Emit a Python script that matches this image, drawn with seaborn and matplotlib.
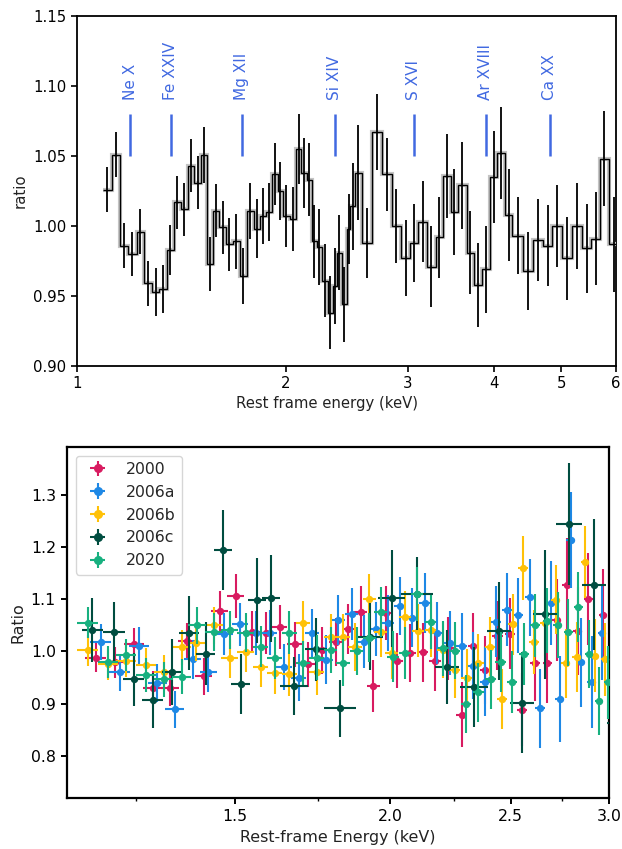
import numpy as np
import pandas as pd
import matplotlib
matplotlib.use("Agg")
import matplotlib.pyplot as plt
import matplotlib.patheffects as pe
from matplotlib.ticker import FixedLocator, FormatStrFormatter, NullLocator, NullFormatter
from matplotlib.lines import Line2D
import seaborn as sns

# ---------------- top panel data ----------------
top_edges = [1.089, 1.122, 1.154, 1.186, 1.219, 1.251, 1.284, 1.315, 1.347, 1.380,
             1.411, 1.444, 1.477, 1.510, 1.542, 1.573, 1.605, 1.641, 1.677, 1.719,
             1.757, 1.800, 1.837, 1.874, 1.911, 1.952, 1.981, 2.029, 2.068, 2.109,
             2.145, 2.181, 2.217, 2.259, 2.300, 2.338, 2.370, 2.414, 2.450, 2.482,
             2.518, 2.580, 2.668, 2.758, 2.845, 2.934, 3.030, 3.108, 3.202, 3.296,
             3.377, 3.464, 3.550, 3.650, 3.743, 3.844, 3.952, 4.041, 4.145, 4.252,
             4.405, 4.554, 4.709, 4.857, 5.020, 5.190, 5.366, 5.528, 5.683, 5.862, 6.05]
top_ratio = [1.026, 1.051, 0.986, 0.980, 0.996, 0.959, 0.953, 0.955, 0.983, 1.017,
             1.012, 1.043, 1.031, 1.051, 0.973, 1.011, 0.999, 0.987, 0.989, 0.964,
             1.011, 0.998, 1.007, 1.010, 1.037, 1.025, 1.007, 1.005, 1.055, 1.038,
             1.033, 0.989, 0.985, 0.961, 0.938, 0.957, 0.981, 0.944, 0.998, 1.014,
             1.038, 0.988, 1.067, 1.037, 1.000, 0.977, 0.988, 1.003, 0.971, 0.992,
             1.036, 1.010, 1.029, 0.981, 0.958, 0.969, 1.035, 1.052, 1.008, 0.993,
             0.968, 0.990, 0.986, 1.000, 0.977, 1.000, 0.984, 0.991, 1.048, 0.987]
top_err = [0.016, 0.016, 0.016, 0.016, 0.016, 0.016, 0.017, 0.017, 0.018, 0.019,
           0.019, 0.019, 0.019, 0.020, 0.0195, 0.019, 0.019, 0.019, 0.0196, 0.020,
           0.020, 0.021, 0.020, 0.021, 0.022, 0.021, 0.022, 0.023, 0.025, 0.025,
           0.026, 0.026, 0.027, 0.026, 0.026, 0.027, 0.027, 0.027, 0.025, 0.031,
           0.034, 0.025, 0.027, 0.026, 0.0265, 0.027, 0.028, 0.029, 0.029, 0.029,
           0.030, 0.031, 0.031, 0.0295, 0.030, 0.031, 0.033, 0.033, 0.033, 0.0276,
           0.028, 0.029, 0.029, 0.0295, 0.0298, 0.031, 0.0315, 0.033, 0.034, 0.034]
line_names = ["Ne X", "Fe XXIV", "Mg XII", "Si XIV", "S XVI", "Ar XVIII", "Ca XX"]
line_energies = [1.193, 1.366, 1.730, 2.356, 3.064, 3.891, 4.814]
top_xticks = [1, 2, 3, 4, 5, 6]
top_yticks = [0.90, 0.95, 1.00, 1.05, 1.10, 1.15]

# ---------------- bottom panel data ----------------
series_names = ["2000", "2006a", "2006b", "2006c", "2020"]
series_colors = ["#D81B60", "#1E88E5", "#FFC107", "#004D40", "#17B07F"]

e2000 = [1.159, 1.201, 1.244, 1.288, 1.330, 1.372, 1.416, 1.459, 1.502, 1.547,
         1.588, 1.630, 1.676, 1.718, 1.763, 1.808, 1.851, 1.894, 1.938, 1.983,
         2.026, 2.075, 2.124, 2.173, 2.227, 2.283, 2.333, 2.384, 2.440, 2.497,
         2.555, 2.616, 2.676, 2.723, 2.774, 2.831, 2.887, 2.968]
r2000 = [0.988, 0.979, 1.014, 0.930, 0.930, 1.020, 0.952, 1.077, 1.106, 1.038,
         1.036, 1.047, 1.014, 0.975, 1.002, 1.018, 1.043, 1.076, 0.934, 1.073,
         0.982, 0.997, 0.998, 0.982, 1.006, 0.879, 1.011, 0.964, 1.030, 1.034,
         0.888, 0.977, 0.977, 1.060, 1.127, 1.039, 1.100, 1.069]
dr2000 = [0.028, 0.030, 0.030, 0.033, 0.034, 0.035, 0.036, 0.038, 0.042, 0.040,
          0.040, 0.042, 0.043, 0.044, 0.045, 0.046, 0.048, 0.050, 0.050, 0.052,
          0.053, 0.055, 0.056, 0.058, 0.060, 0.062, 0.063, 0.065, 0.066, 0.068,
          0.070, 0.072, 0.075, 0.078, 0.090, 0.085, 0.088, 0.090]
de2000 = 0.023

e2006a = [1.170, 1.212, 1.256, 1.299, 1.342, 1.387, 1.428, 1.471, 1.514, 1.560,
          1.600, 1.643, 1.688, 1.731, 1.775, 1.817, 1.862, 1.906, 1.947, 1.993,
          2.037, 2.081, 2.133, 2.182, 2.234, 2.283, 2.333, 2.384, 2.433, 2.484,
          2.536, 2.591, 2.640, 2.693, 2.739, 2.794, 2.847, 2.905, 2.960]
r2006a = [1.018, 0.960, 1.011, 0.939, 0.889, 0.985, 0.960, 1.034, 1.052, 1.035,
          1.036, 0.971, 0.950, 1.036, 0.984, 1.061, 1.072, 1.019, 1.043, 1.055,
          1.087, 1.065, 1.093, 1.035, 1.016, 1.011, 0.973, 0.942, 1.057, 1.080,
          1.069, 1.104, 0.891, 1.093, 0.909, 1.214, 0.979, 0.941, 1.035]
dr2006a = [0.034, 0.035, 0.036, 0.036, 0.035, 0.037, 0.038, 0.040, 0.041, 0.042,
           0.043, 0.044, 0.045, 0.046, 0.047, 0.048, 0.050, 0.051, 0.052, 0.054,
           0.055, 0.057, 0.058, 0.060, 0.061, 0.062, 0.064, 0.066, 0.068, 0.070,
           0.072, 0.074, 0.076, 0.080, 0.082, 0.092, 0.085, 0.088, 0.090]
de2006a = 0.023

e2006b = [1.142, 1.186, 1.227, 1.272, 1.315, 1.359, 1.397, 1.443, 1.486, 1.530,
          1.573, 1.615, 1.659, 1.702, 1.745, 1.791, 1.833, 1.874, 1.924, 1.965,
          2.005, 2.055, 2.107, 2.156, 2.204, 2.255, 2.305, 2.355, 2.406, 2.459,
          2.509, 2.559, 2.611, 2.664, 2.719, 2.770, 2.826, 2.869, 2.923, 2.978]
r2006b = [1.002, 0.975, 0.982, 0.974, 0.960, 1.008, 1.017, 1.050, 0.987, 0.998,
          0.970, 0.958, 0.956, 1.055, 0.960, 1.027, 1.027, 1.009, 1.101, 1.037,
          0.9965, 1.066, 1.040, 1.042, 1.003, 0.964, 0.950, 0.977, 1.009, 0.909,
          1.052, 1.160, 1.018, 1.055, 1.099, 0.977, 0.990, 1.172, 0.992, 0.985]
dr2006b = [0.030, 0.030, 0.031, 0.032, 0.033, 0.034, 0.035, 0.036, 0.037, 0.038,
           0.039, 0.040, 0.041, 0.042, 0.043, 0.044, 0.045, 0.046, 0.047, 0.048,
           0.049, 0.050, 0.051, 0.052, 0.053, 0.054, 0.055, 0.056, 0.057, 0.058,
           0.059, 0.062, 0.062, 0.064, 0.066, 0.066, 0.067, 0.069, 0.070, 0.070]
de2006b = 0.023

e2006c = [1.152, 1.199, 1.244, 1.288, 1.334, 1.378, 1.422, 1.467, 1.516, 1.562,
          1.604, 1.674, 1.743, 1.822, 1.926, 2.005, 2.103, 2.223, 2.336, 2.448,
          2.555, 2.664, 2.786, 2.919, 3.060]
r2006c = [1.041, 1.0375, 0.9465, 0.906, 0.961, 1.036, 0.996, 1.194, 0.938, 1.098,
          1.1015, 0.934, 1.004, 0.891, 1.028, 1.102, 1.111, 0.971, 0.932, 1.040,
          0.902, 1.071, 1.245, 1.128, 0.862]
dr2006c = [0.061, 0.058, 0.051, 0.052, 0.063, 0.071, 0.060, 0.077, 0.058, 0.082,
           0.084, 0.056, 0.060, 0.055, 0.064, 0.093, 0.070, 0.071, 0.077, 0.094,
           0.097, 0.124, 0.117, 0.125, 0.120]
de2006c = [0.023, 0.024, 0.024, 0.024, 0.024, 0.025, 0.025, 0.025, 0.026, 0.026,
           0.027, 0.043, 0.035, 0.054, 0.049, 0.050, 0.062, 0.048, 0.061, 0.053,
           0.057, 0.058, 0.066, 0.063, 0.070]

e2020 = [1.142, 1.186, 1.227, 1.272, 1.315, 1.359, 1.399, 1.443, 1.486, 1.530,
         1.573, 1.615, 1.659, 1.702, 1.745, 1.791, 1.833, 1.880, 1.924, 1.965,
         2.011, 2.055, 2.103, 2.156, 2.207, 2.255, 2.302, 2.355, 2.409, 2.454,
         2.508, 2.563, 2.616, 2.676, 2.729, 2.782, 2.834, 2.892, 2.946, 2.996]
r2020 = [1.055, 0.980, 0.993, 0.955, 0.9465, 0.9515, 1.050, 1.037, 1.041, 1.036,
         1.009, 0.987, 1.036, 0.9785, 0.988, 1.003, 0.9785, 1.001, 1.026, 1.075,
         0.990, 0.9965, 1.110, 1.057, 1.006, 1.0015, 0.899, 0.9215, 0.9465, 0.980,
         0.941, 0.995, 1.050, 1.059, 1.050, 1.037, 1.086, 0.995, 0.905, 0.941]
dr2020 = [0.030, 0.030, 0.031, 0.032, 0.033, 0.034, 0.035, 0.036, 0.037, 0.038,
          0.039, 0.040, 0.041, 0.042, 0.043, 0.044, 0.045, 0.046, 0.047, 0.048,
          0.049, 0.050, 0.051, 0.052, 0.053, 0.054, 0.055, 0.056, 0.057, 0.058,
          0.059, 0.060, 0.061, 0.062, 0.063, 0.064, 0.067, 0.066, 0.065, 0.070]
de2020 = 0.023

bottom_xticks = [1.5, 2.0, 2.5, 3.0]
bottom_xminor = [1.25, 1.75, 2.25, 2.75]
bottom_yticks = [0.8, 0.9, 1.0, 1.1, 1.2, 1.3]

# ---------------- style ----------------
sns.set_theme(style="ticks")
plt.rcParams["font.family"] = ["DejaVu Sans"]
plt.rcParams["axes.edgecolor"] = "black"
plt.rcParams["xtick.color"] = "black"
plt.rcParams["ytick.color"] = "black"
plt.rcParams["axes.labelcolor"] = "#222222"

fig = plt.figure(figsize=(6.22, 8.49), dpi=100)
fig.patch.set_facecolor("white")

# ================= top panel =================
ax1 = fig.add_axes([0.1238, 0.5689, 0.8666, 0.4122])
edges = np.array(top_edges)
centers = np.sqrt(edges[:-1] * edges[1:])
ax1.stairs(top_ratio, edges, baseline=None, color="black", lw=1.0,
           path_effects=[pe.Stroke(linewidth=3.0, foreground="#c4c4c4"), pe.Normal()],
           zorder=3)
ax1.errorbar(centers, top_ratio, yerr=top_err, fmt="none", ecolor="black",
             elinewidth=1.3, capsize=0, zorder=4)
ax1.vlines(line_energies, 1.05, 1.08, color="royalblue", lw=1.8, zorder=5)
for name, en in zip(line_names, line_energies):
    ax1.text(en, 1.09, name, rotation=90, ha="center", va="bottom",
             color="royalblue", fontsize=11)
ax1.set_xscale("log")
ax1.set_xlim(1, 6)
ax1.set_ylim(0.90, 1.15)
ax1.xaxis.set_major_locator(FixedLocator(top_xticks))
ax1.xaxis.set_major_formatter(FormatStrFormatter("%d"))
ax1.xaxis.set_minor_locator(NullLocator())
ax1.yaxis.set_major_locator(FixedLocator(top_yticks))
ax1.yaxis.set_major_formatter(FormatStrFormatter("%.2f"))
ax1.tick_params(axis="both", which="major", direction="out", length=4, width=1.2,
                labelsize=10.7, bottom=True, left=True, top=False, right=False)
for s in ax1.spines.values():
    s.set_linewidth(1.3)
    s.set_color("black")
ax1.set_xlabel("Rest frame energy (keV)", fontsize=10.7)
ax1.set_ylabel("ratio", fontsize=10.7)
ax1.xaxis.set_label_coords(0.464, -0.085)

# ================= bottom panel =================
ax2 = fig.add_axes([0.1077, 0.0601, 0.8714, 0.4134])
series = [
    (e2000, r2000, de2000, dr2000),
    (e2006a, r2006a, de2006a, dr2006a),
    (e2006b, r2006b, de2006b, dr2006b),
    (e2006c, r2006c, de2006c, dr2006c),
    (e2020, r2020, de2020, dr2020),
]
handles = []
for k, (name, col, (ee, rr, dx, dy)) in enumerate(zip(series_names, series_colors, series)):
    cont = ax2.errorbar(ee, rr, xerr=dx, yerr=dy, fmt="none", ecolor=col,
                        elinewidth=1.5, capsize=0, zorder=2 + 2 * k)
    df = pd.DataFrame({"energy": ee, "ratio": rr})
    sns.scatterplot(data=df, x="energy", y="ratio", ax=ax2, color=col, s=28,
                    linewidth=0, legend=False, zorder=3 + 2 * k)
    mk = Line2D([], [], marker="o", color=col, linestyle="none", markersize=5.5)
    handles.append((cont, mk))

ax2.set_xscale("log")
ax2.set_xlim(1.099, 3.0)
ax2.set_ylim(0.719, 1.392)
ax2.xaxis.set_major_locator(FixedLocator(bottom_xticks))
ax2.xaxis.set_major_formatter(FormatStrFormatter("%.1f"))
ax2.xaxis.set_minor_locator(FixedLocator(bottom_xminor))
ax2.xaxis.set_minor_formatter(NullFormatter())
ax2.yaxis.set_major_locator(FixedLocator(bottom_yticks))
ax2.yaxis.set_major_formatter(FormatStrFormatter("%.1f"))
ax2.tick_params(axis="both", which="major", direction="out", length=4.5, width=1.4,
                labelsize=11.3, bottom=True, left=True, top=False, right=False)
ax2.tick_params(axis="x", which="minor", direction="out", length=2.5, width=1.0,
                bottom=True, top=False)
for s in ax2.spines.values():
    s.set_linewidth(1.6)
    s.set_color("black")
ax2.set_xlabel("Rest-frame Energy (keV)", fontsize=11.4)
ax2.set_ylabel("Ratio", fontsize=11.4)
ax2.set_xticklabels(["1.5", "2.0", "2.5", "3.0"])

leg = ax2.legend(handles, series_names, loc="upper left", fontsize=11.3,
                 frameon=True, framealpha=0.8, edgecolor="#cccccc", fancybox=True,
                 borderaxespad=0.55)
leg.get_frame().set_linewidth(1.0)

fig.savefig("out.png", dpi=100, facecolor="white")
